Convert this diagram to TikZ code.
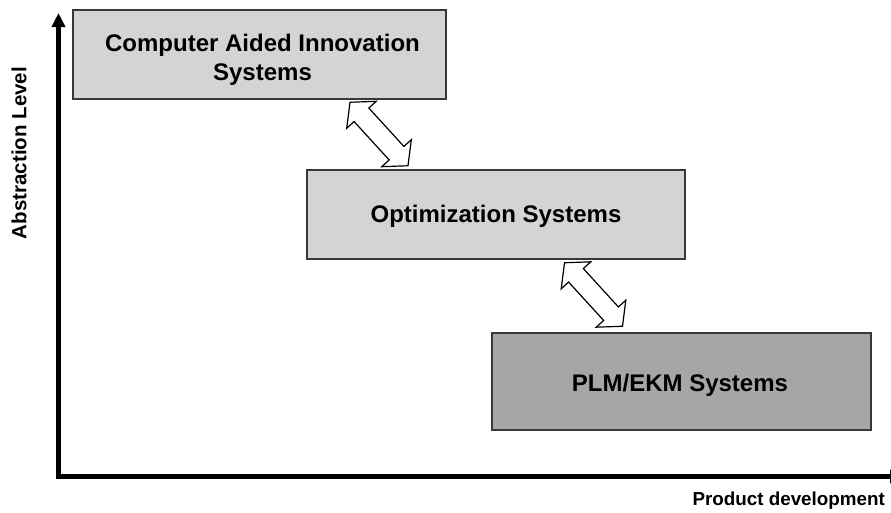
\documentclass[tikz,border=0pt]{standalone}
\usepackage{fontspec}
\setmainfont{Liberation Sans}
\usetikzlibrary{arrows.meta}

\tikzset{
  layerbox/.style={draw=black!78, line width=1.5pt, minimum height=89pt,
    inner sep=0pt},
  lightbox/.style={layerbox, fill=black!17},
  darkbox/.style={layerbox, fill=black!35},
  boxtext/.style={align=center, inner sep=0pt,
    font=\fontsize{24}{29}\selectfont\bfseries},
  axisline/.style={line width=5pt, -{Triangle[width=13pt,length=14pt]}},
  axislabel/.style={font=\fontsize{18.8}{22}\selectfont\bfseries, inner sep=0pt},
  dblarrow/.pic={
    \draw[line width=1.2pt, fill=white, line join=miter]
      (-43,0) -- (-26,20) -- (-26,10) -- (26,10) -- (26,20) -- (43,0)
      -- (26,-20) -- (26,-10) -- (-26,-10) -- (-26,-20) -- cycle;
  }
}

\begin{document}
\begin{tikzpicture}[x=1pt, y=-1pt]
  \useasboundingbox (0,0) rectangle (891,512);
  \clip (0,0) rectangle (891,512);

  % axes
  \coordinate (origin) at (58.5,476.5);
  \coordinate (ytip) at (58.5,13);
  \coordinate (xtip) at (904,476.5);
  \draw[axisline] (56,476.5) -- (xtip);
  \draw[axisline] (58.5,479) -- (ytip);

  \node[axislabel, font=\fontsize{20.5}{24}\selectfont\bfseries, rotate=90]
    (ylab) at (19,153) {Abstraction Level};
  \node[axislabel, anchor=base east] (xlab) at (885,505) {Product development};

  % layers
  \node[lightbox, minimum width=373pt] (cai) at (259.5,54.5) {};
  \node[lightbox, minimum width=378pt] (opt) at (496,214.5) {};
  \node[darkbox, minimum width=379pt, minimum height=97pt] (plm) at (681.5,381.5) {};

  \node[boxtext] (caitext) at ([xshift=3pt, yshift=-5pt]cai.center)
    {Computer Aided Innovation\\Systems};
  \node[boxtext] (opttext) at ([yshift=-2pt]opt.center) {Optimization Systems};
  \node[boxtext] (plmtext) at ([xshift=-1.5pt, yshift=-3.5pt]plm.center) {PLM/EKM Systems};

  % exchange between layers
  \coordinate (a1) at (379,134);
  \coordinate (a2) at (593.5,294.5);
  \pic[rotate=-47.6] at (a1) {dblarrow};
  \pic[rotate=-47.6] at (a2) {dblarrow};
\end{tikzpicture}
\end{document}
